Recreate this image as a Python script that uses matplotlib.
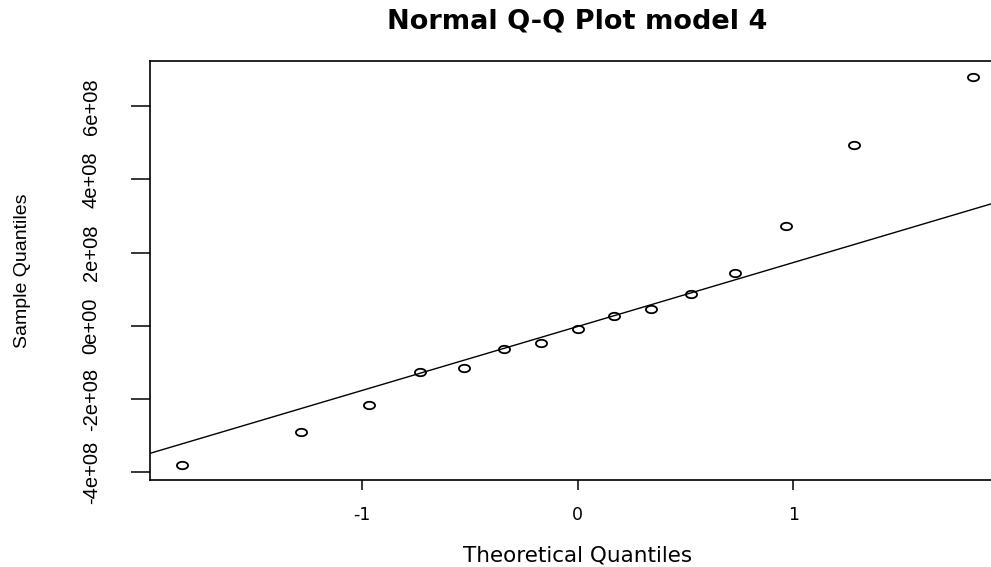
import numpy as np
import matplotlib
matplotlib.use('Agg')
import matplotlib.pyplot as plt
from matplotlib.path import Path

# Theoretical normal quantiles for n = 15 (ppoints) and the sample quantiles
theoretical = [-1.8339, -1.2816, -0.9674, -0.7279, -0.5244, -0.3406, -0.1679, 0.0,
               0.1679, 0.3406, 0.5244, 0.7279, 0.9674, 1.2816, 1.8339]
sample = [-3.79e8, -2.91e8, -2.16e8, -1.25e8, -1.15e8, -0.64e8, -0.48e8, -0.09e8,
          0.28e8, 0.46e8, 0.88e8, 1.44e8, 2.74e8, 4.95e8, 6.80e8]

y_ticks = [-4e8, -2e8, 0, 2e8, 4e8, 6e8]
y_tick_labels = ['-4e+08', '-2e+08', '0e+00', '2e+08', '4e+08', '6e+08']
x_ticks = [-1, 0, 1]
x_tick_labels = ['-1', '0', '1']

HORIZ_FONT = 'DejaVu Sans'
VERT_FONT = 'Liberation Sans'

x = np.array(theoretical)
y = np.array(sample)

# qqline: line through the 1st and 3rd quartiles
q1, q3 = np.percentile(y, [25, 75])
z1, z3 = -0.6744898, 0.6744898
slope = (q3 - q1) / (z3 - z1)
intercept = q1 - slope * z1

# R style 4% padding of the data range
def padded(vals):
    lo, hi = min(vals), max(vals)
    d = (hi - lo) * 0.04
    return lo - d, hi + d

fig = plt.figure(figsize=(9.91, 5.67), dpi=100)
# axes runs past the right edge, as in the original picture
ax = fig.add_axes([150 / 991, 87 / 567, 855 / 991, 418.5 / 567])

# slightly wide ellipse marker (the source image is stretched sideways)
t = np.linspace(0, 2 * np.pi, 60)
ellipse = Path(np.column_stack([1.5 * np.cos(t), np.sin(t)]), closed=True)

ax.plot(x, y, linestyle='none', marker=ellipse, markersize=8,
        markerfacecolor='none', markeredgecolor='black', markeredgewidth=1.3)
ax.axline((0, intercept), slope=slope, color='black', linewidth=1.0)

ax.set_xlim(*padded(theoretical))
ax.set_ylim(*padded(sample))

for side in ['left', 'bottom', 'top', 'right']:
    ax.spines[side].set_linewidth(1.2)

ax.set_xticks(x_ticks)
ax.set_xticklabels(x_tick_labels, fontsize=12.5, family=HORIZ_FONT)
ax.set_yticks(y_ticks)
ax.set_yticklabels(y_tick_labels, fontsize=14.5, family=VERT_FONT,
                   rotation=90, va='center')
ax.tick_params(axis='x', length=7, width=1.1, pad=12)
ax.tick_params(axis='y', length=13.5, width=1.1, pad=22)

ax.set_xlabel('Theoretical Quantiles', fontsize=15.5, family=HORIZ_FONT)
ax.xaxis.label.set_va('baseline')
ax.xaxis.set_label_coords(0.5, (480 - 561) / 418.5)

ax.set_ylabel('Sample Quantiles', fontsize=14, family=VERT_FONT)
ax.yaxis.label.set_va('center')
ax.yaxis.set_label_coords((22 - 150) / 855, 0.5)

ax.set_title('Normal Q-Q Plot model 4', fontsize=19.5, fontweight='bold',
             family=HORIZ_FONT, y=(480 - 29) / 418.5, pad=0, va='baseline')

fig.savefig('out.png', dpi=100)
